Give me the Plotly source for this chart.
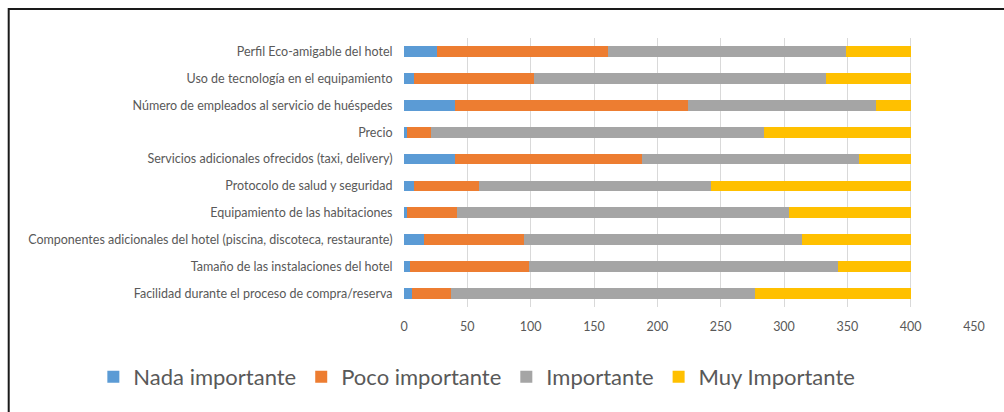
import plotly.graph_objects as go

categories = [
    "Perfil Eco-amigable del hotel",
    "Uso de tecnología en el equipamiento",
    "Número de empleados al servicio de huéspedes",
    "Precio",
    "Servicios adicionales ofrecidos (taxi, delivery)",
    "Protocolo de salud y seguridad",
    "Equipamiento de las habitaciones",
    "Componentes adicionales del hotel (piscina, discoteca, restaurante)",
    "Tamaño de las instalaciones del hotel",
    "Facilidad durante el proceso de compra/reserva",
]
nada_importante = [26, 8, 40, 2, 40, 8, 2, 16, 5, 6]
poco_importante = [135, 95, 184, 19, 148, 51, 40, 79, 94, 31]
importante = [188, 230, 149, 263, 171, 183, 262, 219, 244, 240]
muy_importante = [51, 67, 27, 116, 41, 158, 96, 86, 57, 123]

series_names = ["Nada importante", "Poco importante", "Importante", "Muy Importante"]
series_values = [nada_importante, poco_importante, importante, muy_importante]
colors = ["#5B9BD5", "#ED7D31", "#A5A5A5", "#FFC000"]
x_ticks = [0, 50, 100, 150, 200, 250, 300, 350, 400, 450]

FONT = "Lato, Open Sans, sans-serif"

fig = go.Figure()
for name, vals, col in zip(series_names, series_values, colors):
    fig.add_trace(go.Bar(
        y=categories, x=vals, name=name, orientation="h",
        marker=dict(color=col, line=dict(width=0)),
    ))

fig.update_layout(
    barmode="stack",
    bargap=0.6,
    width=1004, height=412,
    margin=dict(l=404, r=30, t=38, b=105, pad=0, autoexpand=False),
    paper_bgcolor="white", plot_bgcolor="white",
    font=dict(family=FONT, color="#595959", size=12),
    xaxis=dict(
        range=[0, 450], tickvals=x_ticks, showgrid=True, gridcolor="#D9D9D9",
        gridwidth=1, zeroline=False, showline=False, automargin=False,
        ticks="outside", ticklen=8, tickcolor="rgba(0,0,0,0)",
        tickfont=dict(size=12.5, color="#595959", family=FONT),
    ),
    yaxis=dict(
        autorange="reversed", showgrid=False, zeroline=False, showline=False,
        automargin=False,
        ticks="outside", ticklen=8, tickcolor="rgba(0,0,0,0)",
        tickfont=dict(size=12.5, color="#595959", family=FONT),
    ),
    legend=dict(
        orientation="h", x=-0.545, xanchor="left", xref="paper",
        y=-0.26, yanchor="middle",
        font=dict(size=22, color="#595959", family=FONT),
        traceorder="normal",
    ),
    showlegend=True,
)

fig.add_shape(
    type="rect", xref="paper", yref="paper",
    x0=-0.6935, x1=1.1, y0=-0.45, y1=1.1078,
    line=dict(color="#1a1a1a", width=2), fillcolor="rgba(0,0,0,0)", layer="above",
)

fig.write_html("out.html")
